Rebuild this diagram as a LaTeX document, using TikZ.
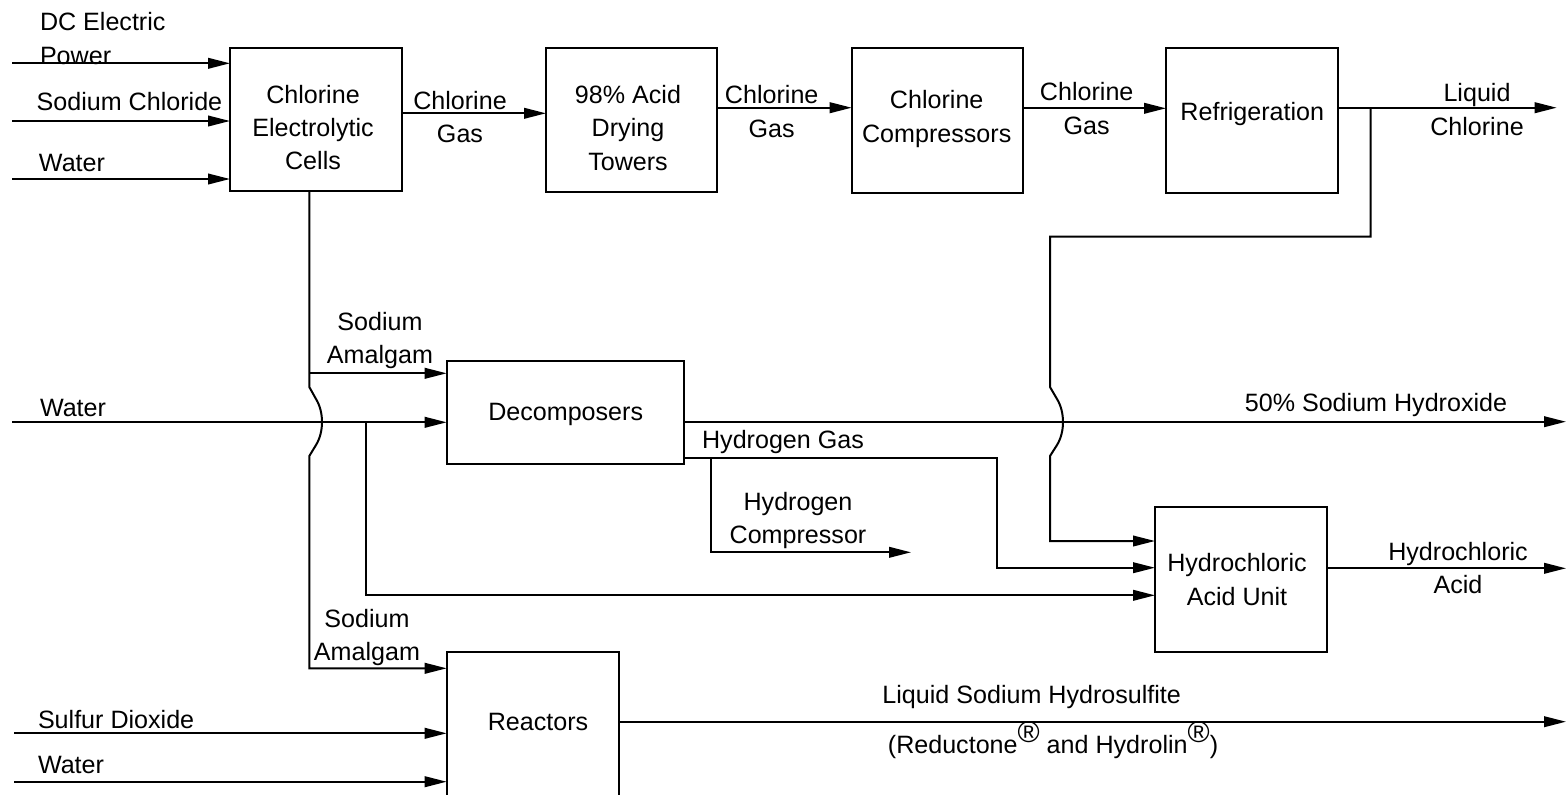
\documentclass[tikz,border=0pt]{standalone}
\usepackage{fontspec}
\setmainfont{Liberation Sans}
\usetikzlibrary{arrows.meta}
\newcommand{\regmark}{\raisebox{0.42em}{\fontsize{15}{15}\selectfont ®}}
\begin{document}
\begin{tikzpicture}[x=0.5pt,y=-0.5pt,
  every node/.style={font=\fontsize{12.55}{16.7}\selectfont, inner sep=0pt, outer sep=0pt},
  box/.style={draw, line width=1pt},
  lbl/.style={align=center},
  lbll/.style={align=left, anchor=west},
  pipe/.style={line width=1pt},
  flow/.style={line width=1pt, -{Triangle[length=11pt,width=5.3pt]}}]
\useasboundingbox (0,0) rectangle (1568,794);

% boxes
\node[box, minimum width=86pt, minimum height=71.5pt] (b1) at (316,119.5) {};
\node[box, minimum width=85.5pt, minimum height=72pt] (b2) at (631.5,120) {};
\node[box, minimum width=85.8pt, minimum height=72.2pt] (b3) at (937.5,120.5) {};
\node[box, minimum width=86pt, minimum height=72.2pt] (b4) at (1252,120.5) {};
\node[box, minimum width=118.8pt, minimum height=51.6pt] (dec) at (565.5,412.7) {};
\node[box, minimum width=85.8pt, minimum height=72.2pt] (hcl) at (1240.8,579.5) {};
\node[box, minimum width=86.3pt, minimum height=72.2pt] (rea) at (533,724.5) {};

% box texts
\node[lbl] (t1) at (313,127.5) {Chlorine\\Electrolytic\\Cells};
\node[lbl] (t2) at (628,128) {98\% Acid\\Drying\\Towers};
\node[lbl] (t3) at (936.7,119) {Chlorine\\Compressors};
\node[lbl] (t4) at (1252.3,114) {Refrigeration};
\node[lbl] (t5) at (565.7,414) {Decomposers};
\node[lbl] (t6) at (1237,579.5) {Hydrochloric\\Acid Unit};
\node[lbl] (t7) at (538,721.7) {Reactors};

% free ends
\coordinate (in1) at (12,63.3);
\coordinate (in2) at (12,121);
\coordinate (in3) at (12,179);
\coordinate (in4) at (12,422.3);
\coordinate (in5) at (14,733.3);
\coordinate (in6) at (14,781.7);
\coordinate (out1) at (1556.7,107.7);
\coordinate (out2) at (1566,421.7);
\coordinate (out3) at (1566,568.3);
\coordinate (out4) at (1566,721.7);
\coordinate (out5) at (911,552.3);
\coordinate (j1) at (1370.7,107.7);
\coordinate (j2) at (309.3,373.3);
\coordinate (j3) at (366,422.3);
\coordinate (j4) at (710.7,458);

% inputs to cells
\draw[flow] (in1) -- (in1 -| b1.west);
\draw[flow] (in2) -- (in2 -| b1.west);
\draw[flow] (in3) -- (in3 -| b1.west);
\node[lbll] (l1) at (40,38.4) {DC Electric\\Power};
\node[lbll] (l2) at (36.7,102) {Sodium Chloride};
\node[lbll] (l3) at (39,163) {Water};

% chlorine train
\draw[flow] (b1.east |- 0,113.3) -- (b2.west |- 0,113.3);
\node[lbl] (l4) at (460,117.3) {Chlorine\\Gas};
\draw[flow] (b2.east |- 0,107.7) -- (b3.west |- 0,107.7);
\node[lbl] (l5) at (771.7,111.7) {Chlorine\\Gas};
\draw[flow] (b3.east |- 0,108.3) -- (b4.west |- 0,108.3);
\node[lbl] (l6) at (1086.7,108.7) {Chlorine\\Gas};
\draw[flow] (b4.east |- out1) -- (out1);
\node[lbl] (l7) at (1477,109.4) {Liquid\\Chlorine};

% chlorine to HCl unit with hop
\draw[flow] (j1) -- (1370.7,236.7) -- (1050,236.7) -- (1050,387) -- (1057,399)
  .. controls (1065,412) and (1065,432) .. (1057,445) -- (1050,456) -- (1050,541) -- (hcl.west |- 0,541);

% amalgam line with hop
\draw[flow] (b1.south -| j2) -- (309.3,387) -- (316,399)
  .. controls (324,412) and (324,432) .. (316,445) -- (309.3,456) -- (309.3,668.3) -- (rea.west |- 0,668.3);
\draw[flow] (j2) -- (j2 -| dec.west);
\node[lbl] (l8) at (380,340.5) {Sodium\\Amalgam};
\node[lbl] (l9) at (367,637.3) {Sodium\\Amalgam};

% water to decomposers
\draw[flow] (in4) -- (in4 -| dec.west);
\node[lbll] (l10) at (40,408) {Water};
\draw[flow] (j3) -- (366,595.3) -- (hcl.west |- 0,595.3);

% decomposer outputs
\draw[flow] (dec.east |- out2) -- (out2);
\node[lbl] (l11) at (1376,405) {50\% Sodium Hydroxide};
\draw[flow] (dec.east |- j4) -- (996.7,458) -- (996.7,567.7) -- (hcl.west |- 0,567.7);
\node[lbl] (l12) at (783,441.7) {Hydrogen Gas};
\draw[flow] (j4) -- (710.7,552.3) -- (out5);
\node[lbl] (l13) at (798,520.5) {Hydrogen\\Compressor};

% HCl output
\draw[flow] (hcl.east |- out3) -- (out3);
\node[lbl] (l14) at (1458,567.9) {Hydrochloric\\Acid};

% reactors
\draw[flow] (in5) -- (in5 -| rea.west);
\draw[flow] (in6) -- (in6 -| rea.west);
\node[lbll] (l15) at (38,720) {Sulfur Dioxide};
\node[lbll] (l16) at (38,765) {Water};
\draw[flow] (rea.east |- out4) -- (out4);
\node[lbl] (l17) at (1031.7,696.7) {Liquid Sodium Hydrosulfite};
\node[lbl] (l18) at (1053,740) {(Reductone\regmark{} and Hydrolin\regmark)};
\end{tikzpicture}
\end{document}
